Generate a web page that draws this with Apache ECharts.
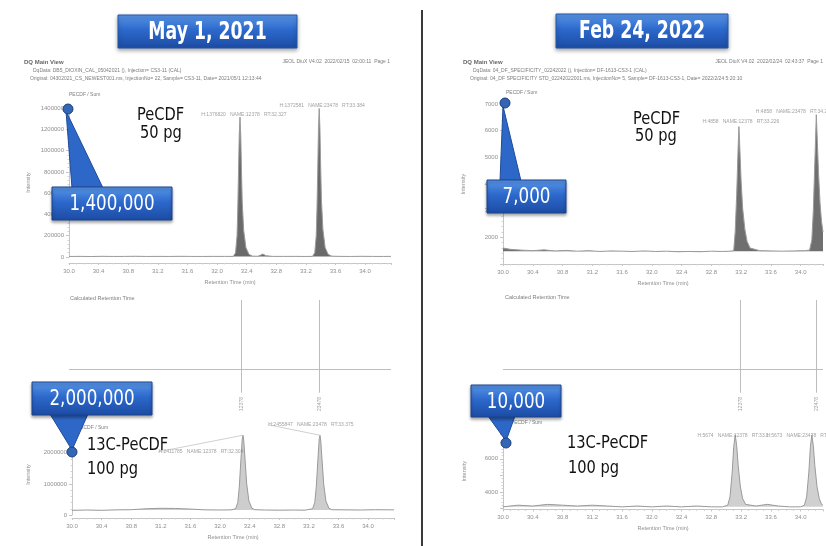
<!DOCTYPE html>
<html><head><meta charset="utf-8">
<script src="https://cdn.jsdelivr.net/npm/echarts@6/dist/echarts.min.js"></script>
<style>html,body{margin:0;padding:0;background:#fff}#c{width:826px;height:546px}</style>
</head><body><div id="c"></div>
<script>
// ---------------- data ----------------
const panelTitles = ['May 1, 2021', 'Feb 24, 2022'];
const calloutTexts = ['1,400,000', '7,000', '2,000,000', '10,000'];
const compoundLabels = [['PeCDF', '50 pg'], ['13C-PeCDF', '100 pg']];
const peakNames = ['12378', '23478'];

// May 1, 2021 - PeCDF / Sum  [RT (min), intensity]
const mayPeCDF = [[30.0,5000],[30.15,6000],[30.3,4500],[30.45,6500],[30.6,5000],[30.75,5500],[30.9,7000],[31.05,5000],[31.2,6000],[31.35,5000],[31.5,6500],[31.65,5500],[31.8,5000],[31.95,6000],[32.1,5500],[32.22,6000],
 [32.25,40000],[32.27,200000],[32.28,450000],[32.29,800000],[32.30,1150000],[32.31,1315000],[32.32,1150000],[32.33,820000],[32.34,520000],[32.36,250000],[32.39,90000],[32.43,25000],[32.48,8000],
 [32.55,7000],[32.59,18000],[32.62,28000],[32.66,12000],[32.75,6000],[32.9,5500],[33.05,6000],[33.2,5000],[33.29,6000],
 [33.32,40000],[33.34,200000],[33.35,450000],[33.36,800000],[33.37,1200000],[33.38,1395000],[33.39,1200000],[33.40,850000],[33.41,540000],[33.43,260000],[33.46,90000],[33.50,25000],[33.55,8000],
 [33.65,6000],[33.8,5000],[33.95,6500],[34.1,5500],[34.25,5000],[34.35,6000]];
const mayPeCDFApex = [[32.31,1315000,'H:1376820   NAME:12378   RT:32.327'],[33.38,1395000,'H:1372581   NAME:23478   RT:33.384']];

// May 1, 2021 - 13C-PeCDF / Sum
const may13C = [[30.0,150000],[30.2,160000],[30.4,150000],[30.6,165000],[30.8,170000],[31.0,200000],[31.2,215000],[31.4,210000],[31.6,190000],[31.8,165000],[32.0,160000],[32.15,165000],
 [32.21,200000],[32.24,400000],[32.26,900000],[32.28,1700000],[32.30,2450000],[32.31,2560000],[32.32,2400000],[32.34,1700000],[32.36,1000000],[32.39,450000],[32.43,220000],[32.47,170000],
 [32.6,160000],[32.8,155000],[33.0,160000],[33.15,155000],
 [33.25,200000],[33.28,400000],[33.30,900000],[33.32,1700000],[33.34,2450000],[33.35,2560000],[33.36,2400000],[33.38,1700000],[33.40,1000000],[33.43,450000],[33.47,220000],[33.51,170000],
 [33.7,165000],[33.9,160000],[34.1,170000],[34.35,165000]];
const may13CApex = [[32.31,2560000,'H:2411785   NAME:12378   RT:32.304'],[33.35,2560000,'H:2455847   NAME:23478   RT:33.375']];
const mayCalcRT = [32.33, 33.38];

// Feb 24, 2022 - PeCDF / Sum
const febPeCDF = [[30.0,1600],[30.1,1550],[30.25,1520],[30.4,1500],[30.55,1530],[30.7,1490],[30.85,1510],[31.0,1480],[31.15,1500],[31.3,1470],[31.45,1490],[31.6,1480],[31.75,1470],[31.9,1490],[32.05,1470],[32.2,1480],[32.35,1460],[32.5,1470],[32.65,1460],[32.8,1480],[32.95,1470],[33.05,1480],
 [33.10,1500],[33.12,2200],[33.14,3600],[33.16,5400],[33.17,6150],[33.18,5500],[33.20,4100],[33.22,3100],[33.25,2300],[33.28,1850],[33.32,1600],
 [33.45,1500],[33.6,1490],[33.75,1480],[33.9,1490],[34.05,1500],[34.12,1520],
 [34.15,1900],[34.17,3000],[34.19,4800],[34.21,6600],[34.22,5900],[34.24,4400],[34.26,3300],[34.28,2600],[34.30,2200]];
const febPeCDFApex = [[33.17,6150,'H:4858   NAME:12378   RT:33.226'],[34.21,6600,'H:4858   NAME:23478   RT:34.288']];

// Feb 24, 2022 - 13C-PeCDF / Sum
const feb13C = [[30.0,3100],[30.2,3200],[30.4,3150],[30.6,3250],[30.8,3200],[31.0,3150],[31.2,3200],[31.4,3150],[31.6,3100],[31.8,3150],[32.0,3100],[32.2,3150],[32.4,3100],[32.6,3150],[32.8,3100],[32.95,3100],
 [33.02,3200],[33.05,3700],[33.08,5200],[33.10,6700],[33.12,7450],[33.14,6800],[33.16,5600],[33.19,4300],[33.22,3600],[33.26,3250],
 [33.4,3150],[33.55,3250],[33.7,3150],[33.85,3100],[34.0,3100],
 [34.05,3200],[34.08,3700],[34.11,5200],[34.13,6700],[34.15,7450],[34.17,6800],[34.19,5600],[34.22,4300],[34.25,3600],[34.28,3250],[34.30,3200]];
const feb13CApex = [[33.12,7450,'H:5674   NAME:12378   RT:33.1'],[34.15,7450,'H:5673   NAME:23478   RT:34.2']];
const febCalcRT = [33.19, 34.21];

// ---------------- chart ----------------
const chart = echarts.init(document.getElementById('c'), null, {renderer: 'canvas'});
const AX = '#c6c6c6', TX = '#8f8f8f', SF = 'Liberation Sans, Arial, sans-serif';

function xAx(gi, max, offset) {
  return {type:'value', gridIndex:gi, min:30, max:max, interval:0.4, offset:offset,
    axisLine:{onZero:false, lineStyle:{color:AX, width:1}},
    axisTick:{length:2, lineStyle:{color:AX}},
    minorTick:{show:true, splitNumber:4, length:1.5, lineStyle:{color:'#d2d2d2'}},
    splitLine:{show:false},
    axisLabel:{fontSize:6, color:TX, fontFamily:SF, margin:5, showMaxLabel:false, formatter:v=>v.toFixed(1)},
    name:'Retention Time (min)', nameLocation:'middle', nameGap:16,
    nameTextStyle:{fontSize:5.5, color:TX, fontFamily:SF}};
}
function yAx(gi, min, max, interval, gap, fmt) {
  return {type:'value', gridIndex:gi, min:min, max:max, interval:interval,
    axisLine:{show:true, onZero:false, lineStyle:{color:AX, width:1}},
    axisTick:{show:true, length:3, lineStyle:{color:AX}},
    minorTick:{show:true, splitNumber:5, length:1.5, lineStyle:{color:'#d2d2d2'}},
    splitLine:{show:false},
    axisLabel:{fontSize:6, color:TX, fontFamily:SF, margin:5, formatter:fmt},
    name:'Intensity', nameLocation:'middle', nameRotate:90, nameGap:gap,
    nameTextStyle:{fontSize:5.5, color:TX, fontFamily:SF}};
}
function hiddenAx(gi, min, max) {
  return {type:'value', gridIndex:gi, min:min, max:max, show:false, splitLine:{show:false}};
}
function trace(data, gi, fill, origin) {
  return {type:'line', xAxisIndex:gi, yAxisIndex:gi, data:data, symbol:'none', silent:true,
    lineStyle:{color:'#9a9a9a', width:1}, areaStyle:{color:fill, origin:origin, opacity:1}, z:3};
}
function apexLabels(data, gi, offsets, dist, extra) {
  return Object.assign({type:'scatter', xAxisIndex:gi, yAxisIndex:gi, data:data, symbolSize:0, silent:true, z:4,
    label:{show:true, position:'top', distance:dist, fontSize:5, color:'#8a8a8a', fontFamily:SF,
      formatter:p=>p.data[2]},
    labelLayout: p => ({dx: offsets[p.dataIndex][0], dy: offsets[p.dataIndex][1]})}, extra || {});
}
function calcSeries(rts, gi, xmax) {
  const lines = [[{coord:[30.0,0.39]},{coord:[xmax,0.39]}]];
  rts.forEach(rt => lines.push([{coord:[rt,1]},{coord:[rt,0.18]}]));
  return {type:'scatter', xAxisIndex:gi, yAxisIndex:gi, symbolSize:0, silent:true, z:4,
    data: rts.map((rt,i)=>[rt, 0.08, peakNames[i]]),
    label:{show:true, position:'inside', rotate:90, fontSize:5, color:'#8a8a8a', fontFamily:SF, formatter:p=>p.data[2]},
    markLine:{symbol:'none', silent:true, label:{show:false},
      lineStyle:{color:'#bdbdbd', width:1, type:'solid'}, data:lines}};
}

const blueGrad = () => new echarts.graphic.LinearGradient(0,0,0,1,[
  {offset:0,color:'#5a97e8'},{offset:0.45,color:'#2c69cc'},{offset:1,color:'#1c4ba3'}]);

function txt(x, y, t, size, st) {
  return {type:'text', x:x, y:y, z:10, silent:true,
    style:Object.assign({text:t, fontSize:size, fill:'#7d7d7d', fontFamily:SF, verticalAlign:'middle', align:'left'}, st || {})};
}
function bigLabel(x, y, t) {
  return {type:'text', x:x, y:y, z:20, silent:true, scaleX:0.86,
    style:{text:t, fontSize:17, fill:'#111', fontFamily:'DejaVu Sans', verticalAlign:'middle', align:'left'}};
}
function titleBox(x, y, w, h, t) {
  return [{type:'rect', z:20, silent:true, shape:{x:x, y:y, width:w, height:h},
      style:{fill:blueGrad(), stroke:'#2557a8', lineWidth:1, shadowBlur:4, shadowColor:'rgba(0,0,0,0.35)', shadowOffsetY:2}},
    {type:'text', z:21, silent:true, x:x+w/2, y:y+h/2+1, scaleX:0.72,
      style:{text:t, fontSize:24, fontWeight:'bold', fill:'#fff', fontFamily:'DejaVu Sans', align:'center', verticalAlign:'middle'}}];
}
function callout(box, tri, circ, t) {
  return [
    {type:'polygon', z:30, silent:true, shape:{points:tri}, style:{fill:'#2d68c9', stroke:'#1e4b98', lineWidth:1}},
    {type:'rect', z:31, silent:true, shape:{x:box[0], y:box[1], width:box[2], height:box[3]},
      style:{fill:blueGrad(), stroke:'#1c458f', lineWidth:1, shadowBlur:3, shadowColor:'rgba(0,0,0,0.35)', shadowOffsetY:2}},
    {type:'text', z:32, silent:true, x:box[0]+box[2]/2, y:box[1]+box[3]/2+1, scaleX:0.76,
      style:{text:t, fontSize:22, fill:'#fff', fontFamily:'DejaVu Sans', align:'center', verticalAlign:'middle'}},
    {type:'circle', z:33, silent:true, shape:{cx:circ[0], cy:circ[1], r:5}, style:{fill:'#3565b5', stroke:'#1d3f80', lineWidth:1}}
  ];
}

const graphic = [].concat(
  [{type:'line', z:5, silent:true, shape:{x1:422, y1:10, x2:422, y2:546}, style:{stroke:'#3a3a3a', lineWidth:2}}],
  titleBox(118, 15, 179, 33, panelTitles[0]),
  titleBox(556, 14, 172, 34, panelTitles[1]),
  [
    txt(24, 62, 'DQ Main View', 6, {fontWeight:'bold', fill:'#666'}),
    txt(390, 62, 'JEOL DiuX V4.02  2022/02/15  02:00:11  Page 1', 5, {align:'right'}),
    txt(33, 70.5, 'DqData: DB5_DIOXIN_CAL_05042021 (), Injection= CS3-11 (CAL)', 5),
    txt(30, 78.5, 'Original: 04302021_CS_NEWEST001.ms, InjectionNo= 22, Sample= CS3-11, Date= 2021/05/1 12:13:44', 5),
    txt(69, 95, 'PECDF / Sum', 5),
    txt(70, 298, 'Calculated Retention Time', 5.5),
    txt(66, 428, '13C-PECDF / Sum', 5),
    txt(463, 62, 'DQ Main View', 6, {fontWeight:'bold', fill:'#666'}),
    txt(823, 62, 'JEOL DiuX V4.02  2022/02/24  02:43:37  Page 1', 5, {align:'right'}),
    txt(473, 71, 'DqData: 04_DF_SPECIFICITY_02242022 (), Injection= DF-1613-CS3-1 (CAL)', 5),
    txt(470, 79, 'Original: 04_DF SPECIFICITY STD_02242022001.ms, InjectionNo= 5, Sample= DF-1613-CS3-1, Date= 2022/2/24 5:20:10', 5),
    txt(506, 93, 'PECDF / Sum', 5),
    txt(505, 297, 'Calculated Retention Time', 5.5),
    txt(500, 423, '13C-PECDF / Sum', 5),
    bigLabel(137, 116, compoundLabels[0][0]), bigLabel(140, 134, compoundLabels[0][1]),
    bigLabel(633, 120, compoundLabels[0][0]), bigLabel(635, 137, compoundLabels[0][1]),
    bigLabel(87, 446, compoundLabels[1][0]), bigLabel(87, 470, compoundLabels[1][1]),
    bigLabel(567, 444, compoundLabels[1][0]), bigLabel(568, 469, compoundLabels[1][1])
  ],
  callout([52, 187, 120, 33], [[66,111],[72,188],[103,188]], [68,109], calloutTexts[0]),
  callout([487, 180, 79, 33], [[503,106],[500,181],[521,181]], [505,103], calloutTexts[1]),
  callout([32, 382, 120, 33], [[50,414],[88,414],[72,450]], [72,452], calloutTexts[2]),
  callout([471, 385, 90, 32], [[488,416],[515,416],[506,441]], [506,443], calloutTexts[3])
);

const option = {
  animation: false,
  backgroundColor: '#fff',
  grid: [
    {left:69, top:108, width:322, height:149},
    {left:69, top:300, width:322, height:113},
    {left:72, top:434, width:322, height:81},
    {left:503, top:104, width:320, height:160},
    {left:503, top:300, width:320, height:113},
    {left:503, top:434, width:320, height:74.5}
  ],
  xAxis: [
    xAx(0, 34.35, 6),
    hiddenAx(1, 30, 34.35),
    xAx(2, 34.35, 3),
    xAx(3, 34.3, 0),
    hiddenAx(4, 30, 34.3),
    xAx(5, 34.3, 1)
  ],
  yAxis: [
    yAx(0, 0, 1400000, 200000, 38, v => String(v)),
    hiddenAx(1, 0, 1),
    yAx(2, 0, 2600000, 1000000, 41, v => (v % 1000000 === 0 ? String(v) : '')),
    yAx(3, 1000, 7000, 1000, 37, v => (v === 1000 ? '' : String(v))),
    hiddenAx(4, 0, 1),
    yAx(5, 3000, 7500, 1000, 36, v => (v % 2000 === 0 ? String(v) : ''))
  ],
  series: [
    trace(mayPeCDF, 0, '#6a6a6a', 5000),
    apexLabels(mayPeCDFApex, 0, [[4,0],[3,0]], 0),
    calcSeries(mayCalcRT, 1, 34.35),
    trace(may13C, 2, '#cdcdcd', 160000),
    apexLabels(may13CApex, 2, [[-42,21],[-9,-6]], 2, {labelLine:{show:true, length2:0, lineStyle:{color:'#c4c4c4', width:0.8}}}),
    trace(febPeCDF, 3, '#6f6f6f', 1480),
    apexLabels(febPeCDFApex, 3, [[2,-3],[-22,-1]], 0),
    calcSeries(febCalcRT, 4, 34.3),
    trace(feb13C, 5, '#d0d0d0', 3100),
    apexLabels(feb13CApex, 5, [[-2,3],[-10,3]], 0)
  ],
  graphic: graphic
};
chart.setOption(option);
</script>
</body></html>
